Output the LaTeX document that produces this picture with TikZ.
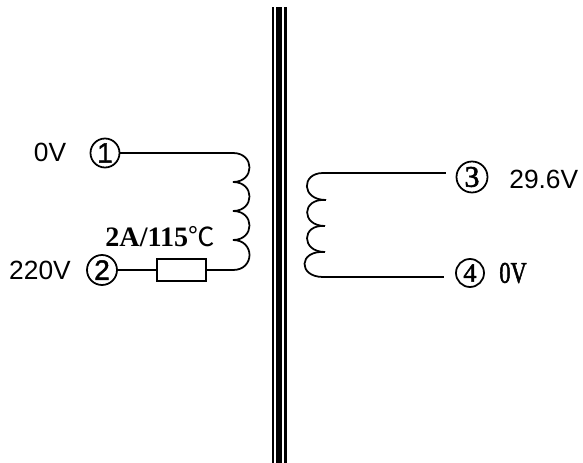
\documentclass[tikz,border=0pt]{standalone}
\usepackage{fontspec}
\setmainfont{Liberation Serif}
\setsansfont{Liberation Sans}
\newfontfamily\cjk{Noto Sans CJK SC}
\newfontfamily\termsf[FakeBold=1.5]{Liberation Sans}
\newfontfamily\termrm[FakeBold=2]{Liberation Serif}
\usetikzlibrary{positioning}
\tikzset{
	term/.style={draw, circle, line width=1pt, inner sep=0pt, minimum size=#1},
	volt/.style={font=\sffamily\fontsize{15}{15}\selectfont, inner sep=0pt},
	wire/.style={line width=1pt},
	fuse/.style={draw, line width=0.9pt, minimum width=0.98cm, minimum height=0.44cm, inner sep=0pt},
}
\begin{document}
\begin{tikzpicture}[x=0.02cm, y=-0.02cm]
	\useasboundingbox (0,0) rectangle (583,463);

	% core
	\fill (272,7) rectangle (274.5,463);
	\fill (276.5,7) rectangle (282,463);
	\fill (284.5,7) rectangle (287.5,463);

	% primary
	\node[term=0.58cm, font=\termsf\fontsize{16}{16}\selectfont] (T1) at (105,153) {1};
	\node[term=0.6cm, font=\termsf\fontsize{16}{16}\selectfont] (T2) at (102,270) {2};
	\node[fuse] (F1) at (181.5,270) {};
	\node[volt] (V1) at (50,152) {0V};
	\node[volt] (V2) at (40,270) {220V};
	\node[inner sep=0pt, font=\bfseries\fontsize{16}{16}\selectfont] (L1) at (160,237) {2A/115{\cjk\mdseries\fontsize{15}{15}\selectfont ℃}};

	\coordinate (P0) at (233,153);
	\coordinate (P1) at (233,182);
	\coordinate (P2) at (233,211);
	\coordinate (P3) at (233,240);
	\coordinate (P4) at (233,270);

	\draw[wire] (T1) -- (P0);
	\draw[wire] (T2) -- (F1);
	\draw[wire] (F1) -- (P4);
	\draw[wire] (P0) .. controls (255,153) and (255,182) .. (P1);
	\draw[wire] (P1) .. controls (255,182) and (255,211) .. (P2);
	\draw[wire] (P2) .. controls (255,211) and (255,240) .. (P3);
	\draw[wire] (P3) .. controls (255,240) and (255,270) .. (P4);

	% secondary
	\node[term=0.62cm, font=\termrm\fontsize{17}{17}\selectfont] (T3) at (472,177) {3};
	\node[term=0.56cm, font=\termrm\fontsize{15}{15}\selectfont] (T4) at (470,273) {4};
	\node[volt, anchor=west] (V3) at (509,179) {29.6V};
	\node[inner sep=0pt, anchor=west, font=\termrm\fontsize{17}{17}\selectfont] (V4) at (499,273) {\scalebox{0.75}[1]{0V}};

	\coordinate (S0) at (323,173);
	\coordinate (S1) at (326,200);
	\coordinate (S2) at (325,226);
	\coordinate (S3) at (325,252);
	\coordinate (S4) at (323,277);
	\coordinate (E3) at (446,173);
	\coordinate (E4) at (444,277);

	\draw[wire] (S0) -- (E3);
	\draw[wire] (S4) -- (E4);
	\draw[wire] (S0) .. controls (301,173) and (301,200) .. (S1);
	\draw[wire] (S1) .. controls (301,198) and (301,226) .. (S2);
	\draw[wire] (S2) .. controls (301,224) and (301,252) .. (S3);
	\draw[wire] (S3) .. controls (298,250) and (298,277) .. (S4);
\end{tikzpicture}
\end{document}
